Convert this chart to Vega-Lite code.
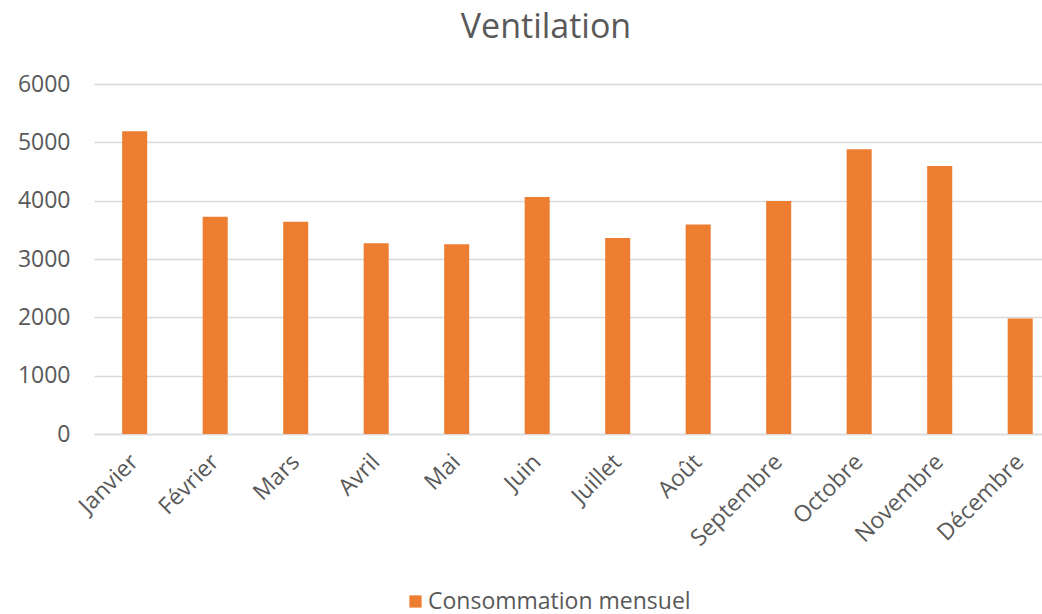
{
  "$schema": "https://vega.github.io/schema/vega-lite/v6.json",
  "width": 948,
  "height": 350,
  "autosize": "none",
  "padding": {"left": 94, "top": 84, "right": 0, "bottom": 180},
  "background": "white",
  "title": {
    "text": "Ventilation",
    "font": "Open Sans",
    "fontSize": 34,
    "fontWeight": "normal",
    "color": "#595959",
    "anchor": "middle",
    "frame": "group",
    "baseline": "alphabetic",
    "dx": -22,
    "offset": 1
  },
  "data": {
    "values": [
      {"mois": "Janvier", "valeur": 5189, "serie": "Consommation mensuel"},
      {"mois": "Février", "valeur": 3724, "serie": "Consommation mensuel"},
      {"mois": "Mars", "valeur": 3638, "serie": "Consommation mensuel"},
      {"mois": "Avril", "valeur": 3272, "serie": "Consommation mensuel"},
      {"mois": "Mai", "valeur": 3255, "serie": "Consommation mensuel"},
      {"mois": "Juin", "valeur": 4062, "serie": "Consommation mensuel"},
      {"mois": "Juillet", "valeur": 3358, "serie": "Consommation mensuel"},
      {"mois": "Août", "valeur": 3593, "serie": "Consommation mensuel"},
      {"mois": "Septembre", "valeur": 3993, "serie": "Consommation mensuel"},
      {"mois": "Octobre", "valeur": 4880, "serie": "Consommation mensuel"},
      {"mois": "Novembre", "valeur": 4594, "serie": "Consommation mensuel"},
      {"mois": "Décembre", "valeur": 1979, "serie": "Consommation mensuel"}
    ]
  },
  "mark": {"type": "bar"},
  "encoding": {
    "x": {
      "field": "mois",
      "type": "nominal",
      "sort": null,
      "scale": {"paddingInner": 0.689, "paddingOuter": 0.2326, "align": 0.752},
      "axis": {
        "title": null,
        "labelAngle": -45,
        "labelAlign": "right",
        "labelBaseline": "middle",
        "labelFont": "Open Sans",
        "labelFontSize": 23,
        "labelColor": "#595959",
        "labelPadding": 24,
        "labelLimit": 300,
        "ticks": false,
        "tickSize": 0,
        "domain": true,
        "domainColor": "#D9D9D9",
        "domainWidth": 1.5,
        "grid": false
      }
    },
    "y": {
      "field": "valeur",
      "type": "quantitative",
      "scale": {"domain": [0, 6000], "nice": false},
      "axis": {
        "title": null,
        "values": [0, 1000, 2000, 3000, 4000, 5000, 6000],
        "format": "d",
        "labelFont": "Open Sans",
        "labelFontSize": 23,
        "labelColor": "#595959",
        "labelPadding": 24,
        "ticks": false,
        "tickSize": 0,
        "domain": false,
        "grid": true,
        "gridColor": "#D9D9D9",
        "gridWidth": 1.3
      }
    },
    "color": {
      "field": "serie",
      "type": "nominal",
      "scale": {"range": ["#ED7D31"]},
      "legend": {
        "title": null,
        "orient": "none",
        "legendX": 310,
        "legendY": 506,
        "padding": 0,
        "symbolType": "square",
        "symbolSize": 150,
        "symbolStrokeWidth": 0,
        "labelFont": "Open Sans",
        "labelFontSize": 23,
        "labelColor": "#595959",
        "labelOffset": 1,
        "labelLimit": 400
      }
    }
  },
  "config": {"view": {"stroke": null}}
}
